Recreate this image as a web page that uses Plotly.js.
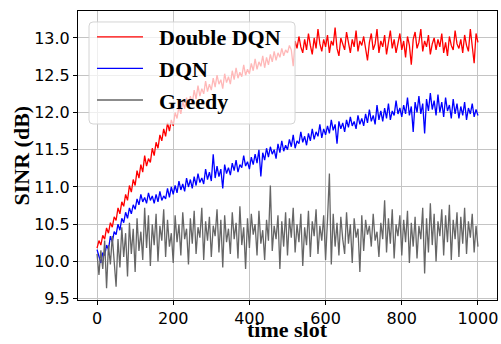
<!DOCTYPE html>
<html>
<head>
<meta charset="utf-8">
<script src="https://cdn.plot.ly/plotly-3.0.1.min.js"></script>
<style>html,body{margin:0;padding:0;background:#fff;}#chart{width:501px;height:344px;}</style>
</head>
<body>
<div id="chart"></div>
<script>
// Time slots: 0..1000, sampled every 5 slots (x0 = 0, dx = 5)
const seriesNames = ["Double DQN", "DQN", "Greedy"];
const seriesColors = ["#ff0000", "#0000ff", "#666666"];
const xTicks = [0, 200, 400, 600, 800, 1000];
const yTicks = [9.5, 10.0, 10.5, 11.0, 11.5, 12.0, 12.5, 13.0];
const xTitle = "time slot";
const yTitle = "SINR (dB)";

const doubleDQN = [
10.18,10.28,10.22,10.35,10.30,10.45,10.38,10.52,10.46,10.60,
10.55,10.72,10.64,10.80,10.74,10.90,10.82,11.02,10.93,11.10,
11.02,11.22,11.12,11.30,11.20,11.42,11.28,11.38,11.33,11.52,
11.42,11.60,11.52,11.70,11.62,11.78,11.68,11.86,11.75,11.90,
11.82,12.00,11.92,12.08,11.98,12.15,12.05,12.20,12.08,12.22,
12.12,12.30,12.18,12.36,12.22,12.32,12.25,12.42,12.28,12.38,
12.30,12.46,12.34,12.50,12.38,12.44,12.32,12.52,12.40,12.48,
12.38,12.56,12.44,12.60,12.46,12.54,12.48,12.64,12.50,12.58,
12.52,12.66,12.56,12.72,12.58,12.68,12.62,12.76,12.60,12.74,
12.64,12.78,12.68,12.82,12.70,12.80,12.74,12.86,12.76,12.84,
12.80,12.90,12.84,12.62,12.96,12.86,13.02,12.88,12.80,12.98,
12.84,13.06,12.90,12.78,13.00,12.86,13.12,12.92,12.82,12.98,
12.88,13.04,12.80,12.96,12.90,13.14,12.86,12.76,13.00,12.92,
12.84,13.08,12.94,12.80,12.98,12.88,13.10,12.82,12.96,12.90,
13.02,12.86,12.70,12.94,13.06,12.84,12.92,13.12,12.80,12.96,
12.88,13.04,12.78,12.94,13.10,12.86,12.98,12.80,12.92,13.06,
12.84,12.96,12.74,13.02,12.90,12.64,12.98,13.08,12.86,12.94,
13.12,12.82,12.96,12.88,13.04,12.78,12.92,13.00,12.84,12.98,
12.88,13.06,12.80,12.94,12.76,13.02,12.90,12.84,13.10,12.92,
12.86,12.98,12.80,13.04,12.90,12.82,13.12,12.88,12.66,13.06,
12.94];

const dqn = [
10.16,10.05,9.98,10.12,10.08,10.22,10.16,10.34,10.26,10.40,
10.36,10.50,10.42,10.58,10.52,10.66,10.58,10.72,10.64,10.76,
10.70,10.84,10.76,10.90,10.80,10.86,10.78,10.92,10.82,10.88,
10.78,10.90,10.80,10.94,10.82,10.88,10.84,10.98,10.86,11.00,
10.90,11.02,10.92,11.08,10.96,11.04,10.94,11.12,11.00,11.10,
10.98,11.14,11.02,11.18,11.06,11.12,11.04,11.24,11.10,11.20,
11.08,11.44,11.12,11.28,11.14,11.24,10.98,11.30,11.18,11.26,
11.16,11.32,11.22,11.36,11.20,11.30,11.26,11.42,11.28,11.34,
11.24,11.40,11.30,11.44,11.32,11.50,11.14,11.46,11.36,11.52,
11.40,11.54,11.44,11.50,11.38,11.58,11.46,11.62,11.48,11.56,
11.50,11.64,11.54,11.70,11.52,11.62,11.58,11.74,11.60,11.68,
11.56,11.72,11.62,11.78,11.64,11.74,11.68,11.84,11.66,11.78,
11.70,11.82,11.72,11.90,11.76,11.84,11.58,11.88,11.78,11.86,
11.74,11.90,11.80,11.94,11.82,11.88,11.78,11.96,11.84,11.92,
11.82,11.98,11.86,12.04,11.88,11.96,11.84,12.10,11.90,12.02,
11.88,12.06,11.92,12.12,11.90,12.02,11.96,12.16,11.98,12.06,
11.94,12.10,11.98,12.20,11.96,12.08,11.74,12.14,12.00,12.22,
11.98,12.12,11.72,12.18,12.02,12.26,12.04,12.16,11.96,12.24,
12.00,12.14,11.94,12.20,12.02,12.10,11.92,12.18,11.98,12.12,
11.92,12.08,11.96,12.14,11.90,12.06,11.98,12.12,11.94,12.04,
11.96];

const greedy = [
10.10,9.82,10.15,9.90,10.28,9.64,10.22,9.96,10.34,10.02,
9.66,10.30,9.92,10.46,10.06,10.38,9.80,10.52,10.10,10.44,
9.86,10.58,10.14,10.40,10.02,10.72,10.18,10.62,9.94,10.50,
10.22,10.64,10.00,10.48,10.28,10.70,10.06,10.56,10.20,10.38,
9.98,10.62,10.26,10.50,10.08,10.66,10.30,10.44,9.96,10.58,
10.24,10.68,10.10,10.46,10.32,10.72,10.02,10.54,10.28,10.60,
10.06,10.48,10.34,10.70,10.12,10.56,9.92,10.62,10.26,10.44,
10.10,10.66,10.30,10.52,10.04,10.74,10.22,10.46,9.90,10.58,
10.18,10.64,10.36,10.50,10.08,10.68,10.24,10.42,10.02,10.56,
10.28,11.02,10.14,10.48,10.30,10.62,9.90,10.54,10.20,10.66,
10.08,10.58,10.32,10.72,10.12,10.50,10.26,10.64,9.94,10.46,
10.22,10.68,10.06,10.54,10.34,10.70,10.10,10.48,10.28,10.62,
10.02,10.56,11.18,9.96,10.64,10.20,10.52,10.08,10.60,10.30,
10.10,10.66,10.24,10.50,9.98,10.58,10.32,10.44,9.86,10.62,
10.14,10.56,10.36,10.48,10.20,10.64,10.28,10.40,10.06,10.52,
10.30,10.82,10.12,10.58,10.24,10.70,10.04,10.50,10.34,10.62,
10.08,10.56,10.26,10.68,9.98,10.52,10.20,10.60,10.04,10.48,
10.30,10.72,9.84,10.58,10.12,10.78,10.22,10.64,10.00,10.54,
10.34,10.70,10.08,10.62,10.26,10.76,10.02,10.56,10.30,10.66,
10.06,10.60,10.24,10.72,10.10,10.54,10.32,10.64,10.12,10.48,
10.20];

const allSeries = [doubleDQN, dqn, greedy];
const traces = allSeries.map((vals, i) => ({
  type: 'scatter', mode: 'lines',
  x0: 0, dx: 5, y: vals,
  name: '\u2002' + seriesNames[i],
  line: {color: seriesColors[i], width: 1.3},
  hoverinfo: 'skip'
}));

const tickFont = {family: 'DejaVu Sans', size: 16, color: '#000'};
const titleFont = {family: 'Liberation Serif', size: 22, color: '#000', weight: 'bold'};

// legend frame (rounded rectangle) in paper coordinates
const bx0 = 0.0263, bx1 = 0.518, by0 = 0.609, by1 = 0.962, rx = 0.0095, ry = 0.0138;
const framePath = `M ${bx0+rx},${by1} L ${bx1-rx},${by1} Q ${bx1},${by1} ${bx1},${by1-ry} ` +
  `L ${bx1},${by0+ry} Q ${bx1},${by0} ${bx1-rx},${by0} L ${bx0+rx},${by0} Q ${bx0},${by0} ${bx0},${by0+ry} ` +
  `L ${bx0},${by1-ry} Q ${bx0},${by1} ${bx0+rx},${by1} Z`;

const layout = {
  width: 501, height: 344,
  margin: {l: 78, r: 4, t: 11, b: 44, pad: 0},
  paper_bgcolor: '#fff', plot_bgcolor: '#fff',
  showlegend: true,
  xaxis: {
    range: [-50, 1050], tickvals: xTicks, ticktext: xTicks.map(String),
    ticks: 'outside', ticklen: 4, tickcolor: '#000', tickfont: tickFont,
    showgrid: true, gridcolor: '#c4c4c4', gridwidth: 1,
    showline: true, linecolor: '#000', linewidth: 1, mirror: true,
    zeroline: false, automargin: false
  },
  yaxis: {
    range: [9.483, 13.362], tickvals: yTicks, ticktext: yTicks.map(v => v.toFixed(1)),
    ticks: 'outside', ticklen: 4, tickcolor: '#000', tickfont: tickFont,
    showgrid: true, gridcolor: '#c4c4c4', gridwidth: 1,
    showline: true, linecolor: '#000', linewidth: 1, mirror: true,
    zeroline: false, automargin: false
  },
  annotations: [
    {text: xTitle, xref: 'paper', yref: 'paper', x: 0.5, y: -0.1522,
     xanchor: 'center', yanchor: 'bottom', showarrow: false, font: titleFont},
    {text: yTitle, xref: 'paper', yref: 'paper', x: -0.1337, y: 0.5,
     xanchor: 'center', yanchor: 'middle', textangle: -90, showarrow: false, font: titleFont}
  ],
  shapes: [{
    type: 'path', xref: 'paper', yref: 'paper', layer: 'above',
    path: framePath, fillcolor: 'rgba(255,255,255,0.72)',
    line: {color: '#d4d4d4', width: 1}
  }],
  legend: {
    x: 0.0334, y: 0.9827, xanchor: 'left', yanchor: 'top',
    bgcolor: 'rgba(0,0,0,0)', borderwidth: 0,
    font: {family: 'Liberation Serif', size: 22, color: '#000', weight: 'bold'},
    itemwidth: 46, tracegroupgap: 0
  }
};

Plotly.newPlot('chart', traces, layout, {staticPlot: true, displayModeBar: false});
</script>
</body>
</html>
